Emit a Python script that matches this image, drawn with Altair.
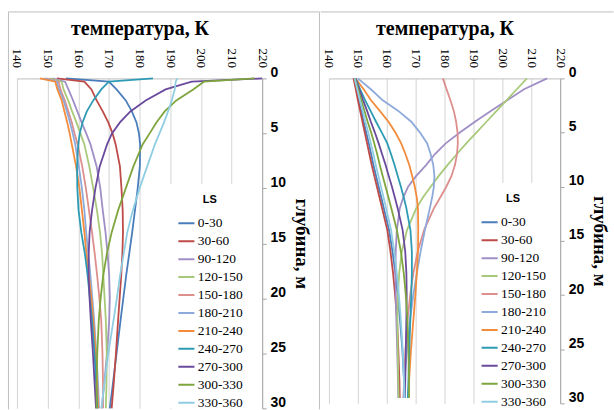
import altair as alt
import pandas as pd

SERIES = ["0-30", "30-60", "90-120", "120-150", "150-180", "180-210",
          "210-240", "240-270", "270-300", "300-330", "330-360"]
COLORS = ["#4a7ebb", "#be4b48", "#a08fc6", "#a9c97a", "#dc8f8d", "#8eaadb",
          "#f38b3c", "#2e9bb5", "#6a4a9c", "#7fa53e", "#8fcde3"]

X_TICKS = [140, 150, 160, 170, 180, 190, 200, 210, 220]
Y_TICKS = [0, 5, 10, 15, 20, 25, 30]

# ---- left panel: depth (m) and temperature (K) per series
DEPTH_L = [0, 0.3, 1, 2, 3, 4, 5, 6, 8, 10, 12, 14, 16, 18, 20, 22, 25, 28, 30]
L_0_30 = [156, 170, 172.5, 175.5, 177.5, 179, 179.8, 180.2, 180.1, 179.4, 178.5, 177.6, 176.6, 175.6, 174.7, 173.8, 172.5, 171.2, 170.3]
L_30_60 = [153, 162, 164.3, 166, 168, 169.8, 171.2, 172.2, 173.6, 174.1, 174.5, 174.6, 174.4, 174, 173.5, 173, 172.3, 171.5, 170.9]
L_90_120 = [151.5, 155.7, 156.8, 158.3, 159.7, 161.1, 162.6, 164, 166, 167.2, 168, 168.9, 169.6, 170.1, 170.3, 170.1, 169.4, 168.4, 167.6]
L_120_150 = [150.5, 154.6, 155.2, 156.7, 158, 159.4, 160.7, 162, 163.6, 164.9, 166.1, 167.1, 167.8, 168.2, 168.6, 169, 169.3, 169.2, 169]
L_150_180 = [149.5, 153.6, 154.2, 155.6, 156.8, 157.9, 158.8, 159.8, 161.3, 162.5, 163.5, 164.5, 165.4, 166.2, 166.9, 167.5, 167.9, 168.1, 168.1]
L_180_210 = [148.7, 153, 153.7, 155.2, 156.3, 157.3, 158.2, 159, 160.2, 161.2, 162, 162.6, 163.3, 164, 164.6, 165.2, 165.9, 166.5, 166.8]
L_210_240 = [147.5, 152.5, 153.2, 154.6, 155.5, 156.4, 157.2, 157.9, 159.3, 160.4, 161.2, 162, 162.7, 163.5, 164.3, 164.9, 165.7, 166.2, 166.5]
L_240_270 = [184.4, 170, 167.5, 164.9, 162.8, 161.4, 160.5, 160, 159.6, 159.7, 160.1, 161, 162.2, 163.1, 163.8, 164.5, 165.3, 165.9, 166.2]
L_270_300 = [220, 197, 188.5, 182, 177, 173.6, 171, 169.4, 167, 165.6, 164.5, 163.7, 163.4, 163.4, 163.7, 164.1, 164.8, 165.4, 165.8]
L_300_330 = [217.5, 201, 197.5, 192, 188.2, 185.5, 183.3, 181, 178, 175.5, 173, 170.9, 169.3, 168.1, 167.3, 166.7, 166.2, 166, 166]
L_330_360 = [192.3, 191.8, 191.5, 190.5, 189.3, 188, 186.5, 185, 182.5, 180, 177.8, 176, 174.8, 173.6, 172.6, 171.5, 169.8, 168.4, 167.6]

# ---- right panel
DEPTH_R = [0, 1, 2, 3, 4, 5, 6, 7, 8, 9, 10, 11, 12, 14, 16, 18, 20, 22, 25, 28, 29.5]
R_0_30 = [148.7, 149.5, 150.3, 151.2, 152, 152.9, 153.8, 154.6, 155.4, 156.3, 157.2, 158.1, 159, 160.8, 162, 163, 163.8, 164.5, 165.4, 166, 166.3]
R_30_60 = [148.5, 149.3, 150, 150.8, 151.6, 152.4, 153.2, 154, 154.8, 155.7, 156.6, 157.5, 158.4, 160.2, 161.3, 162.2, 162.9, 163.5, 164, 164.4, 164.5]
R_90_120 = [215.5, 207.5, 201.8, 196, 190.5, 185.3, 180.4, 176.6, 173.6, 170.2, 167.4, 165.7, 164.5, 163.5, 163.1, 163, 163.1, 163.3, 163.6, 163.9, 164]
R_120_150 = [208.5, 205, 201.5, 198, 194.5, 191, 187.5, 184.2, 181, 178, 175.2, 172.5, 170.2, 167, 165.2, 164.3, 163.9, 163.7, 163.8, 164, 164.1]
R_150_180 = [179.4, 180.7, 182, 183.2, 184, 184.5, 184.6, 184.3, 183.6, 182.4, 180.6, 178.5, 176.3, 172.9, 170.7, 169.2, 168.1, 167.3, 166.5, 166, 165.8]
R_180_210 = [150, 154.5, 158.5, 164, 168.5, 171.5, 174, 175.2, 176.1, 176.5, 176.3, 175.7, 174.9, 173.2, 171.7, 170.4, 169.2, 168.2, 167, 166.1, 165.8]
R_210_240 = [149.2, 152, 154.5, 157.6, 160.6, 163, 165, 166.5, 167.8, 168.8, 169.7, 170.4, 170.8, 170.9, 170.8, 170.4, 169.9, 169.3, 168.4, 167.7, 167.4]
R_240_270 = [149.2, 150.8, 152.5, 154.4, 156.3, 158.3, 160.2, 161.5, 162.7, 163.8, 164.9, 165.9, 166.8, 168.2, 168.7, 168.7, 168.5, 168.2, 167.8, 167.5, 167.3]
R_270_300 = [149.1, 150.5, 151.8, 153.2, 154.5, 155.9, 157.2, 158.4, 159.6, 160.7, 161.8, 162.8, 163.8, 165.5, 166.4, 166.8, 166.9, 166.8, 166.6, 166.4, 166.3]
R_300_330 = [149, 150.1, 151.2, 152.3, 153.4, 154.6, 155.7, 156.7, 157.6, 158.6, 159.6, 160.6, 161.6, 163.5, 164.9, 165.9, 166.6, 167.1, 167.5, 167.7, 167.7]
R_330_360 = [148.9, 149.8, 150.7, 151.7, 152.6, 153.6, 154.5, 155.4, 156.2, 157.1, 158, 158.9, 159.8, 161.5, 162.6, 163.5, 164.2, 164.8, 165.5, 166, 166.2]

LEFT = [L_0_30, L_30_60, L_90_120, L_120_150, L_150_180, L_180_210,
        L_210_240, L_240_270, L_270_300, L_300_330, L_330_360]
RIGHT = [R_0_30, R_30_60, R_90_120, R_120_150, R_150_180, R_180_210,
         R_210_240, R_240_270, R_270_300, R_300_330, R_330_360]


def table(depths, columns):
    rows = []
    for name, temps in zip(SERIES, columns):
        for d, t in zip(depths, temps):
            rows.append({"LS": name, "T": t, "d": d})
    return pd.DataFrame(rows)


SERIF = "Liberation Serif"
SANS = "Liberation Sans"
GRID = "#d4d4d4"
BORDER = "#bfbfbf"
ONE = pd.DataFrame({"k": [0]})


def panel(df, w, h, leg_x, leg_y, box):
    x = alt.X("T:Q", scale=alt.Scale(domain=[140, 220], nice=False, zero=False),
              axis=alt.Axis(orient="top", values=X_TICKS, labelAngle=90,
                            title="температура, К", titleFont=SERIF, titleFontSize=20,
                            titleFontWeight="bold", titleColor="black", titlePadding=10,
                            labelFont=SERIF, labelFontSize=13, labelColor="black",
                            labelPadding=11, ticks=False, grid=True, gridColor=GRID,
                            domainColor=BORDER, labelFlush=False, labelOverlap=False))
    y = alt.Y("d:Q", scale=alt.Scale(domain=[0, 30], reverse=True, nice=False),
              axis=alt.Axis(orient="right", values=Y_TICKS, title="глубина, м",
                            titleFont=SERIF, titleFontSize=19, titleFontWeight="bold",
                            titleColor="black", titlePadding=6, labelFont=SANS,
                            labelFontSize=14, labelFontWeight="bold", labelColor="black",
                            tickSize=4, tickColor="#a6a6a6", domainColor="#a6a6a6",
                            labelPadding=4, labelOffset=-6, labelFlush=False, grid=False))
    color = alt.Color("LS:N", scale=alt.Scale(domain=SERIES, range=COLORS),
                      legend=alt.Legend(title="LS", orient="none", legendX=leg_x, legendY=leg_y,
                                        padding=0, titleFont=SANS, titleFontSize=11,
                                        titleFontWeight="bold", titleColor="black",
                                        titleAnchor="middle", titlePadding=9.5,
                                        labelFont=SERIF, labelFontSize=13.5, labelColor="black",
                                        symbolType="stroke", symbolSize=260,
                                        symbolStrokeWidth=2, clipHeight=17.6, rowPadding=0,
                                        labelOffset=2))
    box_layer = alt.Chart(ONE).mark_rect(color="white").encode(
        x=alt.value(box[0]), x2=alt.value(box[1]), y=alt.value(box[2]), y2=alt.value(h))
    lines = alt.Chart(df).mark_line(strokeWidth=1.8).encode(
        x=x, y=y, color=color, order=alt.Order("d:Q"))
    return box_layer, lines


df_l = table(DEPTH_L, LEFT)
df_r = table(DEPTH_R, RIGHT)

WL, HL = 246, 331
WR, HR = 232, 326

b1, l1 = panel(df_l, WL, HL, 160.5, 116, (153.5, 242, 106))
b2, l2 = panel(df_r, WR, HR, 151.7, 115, (147.5, 228, 105))

TOP = -66.7
border_l = [
    alt.Chart(ONE).mark_rule(color=BORDER).encode(x=alt.value(-8.5), x2=alt.value(WL + 57.5), y=alt.value(TOP)),
    alt.Chart(ONE).mark_rule(color=BORDER).encode(x=alt.value(-8.5), y=alt.value(TOP), y2=alt.value(HL + 1)),
    alt.Chart(ONE).mark_rule(color=BORDER).encode(x=alt.value(WL + 57.5), y=alt.value(TOP), y2=alt.value(HL + 1)),
]
border_r = [
    alt.Chart(ONE).mark_rule(color=BORDER).encode(x=alt.value(-8.3), x2=alt.value(285.5), y=alt.value(TOP)),
]

left = alt.layer(b1, l1, *border_l).properties(width=WL, height=HL)
right = alt.layer(b2, l2, *border_r).properties(width=WR, height=HR)

chart = alt.hconcat(left, right, spacing=0).resolve_scale(color="independent").properties(
    padding={"left": 8, "top": 10, "right": 0, "bottom": 0},
    background="white",
).configure_view(stroke=None)

chart.save("out.html", embed_options={"renderer": "svg", "actions": False})
